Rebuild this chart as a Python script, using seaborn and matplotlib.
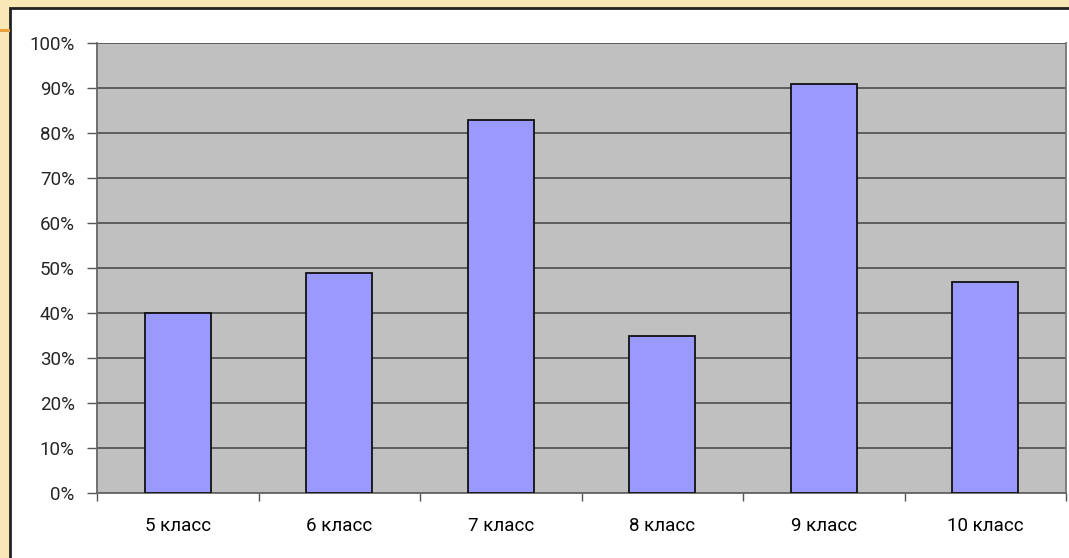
import seaborn as sns
import matplotlib.pyplot as plt
from matplotlib.patches import Rectangle
from matplotlib.ticker import PercentFormatter, FixedLocator

grades = ['5 класс', '6 класс', '7 класс', '8 класс', '9 класс', '10 класс']
shares = [40, 49, 83, 35, 91, 47]

sns.set_style('white')
plt.rcParams['font.family'] = ['Roboto', 'DejaVu Sans']

fig = plt.figure(figsize=(10.69, 5.58), dpi=100)
fig.patch.set_facecolor('#f6e7b4')

# white chart frame behind the axes
W, H = 1069, 558
fig.patches.append(Rectangle((10 / W, -0.01), 1.02, (550 / H) + 0.01,
                             transform=fig.transFigure, facecolor='white',
                             edgecolor='#222222', linewidth=2, zorder=-5))
fig.patches.append(Rectangle((0, 1 - 32 / H), 10 / W, 3 / H,
                             transform=fig.transFigure, facecolor='#e8a03c',
                             edgecolor='none', zorder=-5))

ax = fig.add_axes([97 / W, 1 - 493 / H, (1066 - 97) / W, 450 / H])
ax.set_facecolor('#c0c0c0')

sns.barplot(x=grades, y=shares, ax=ax, color='#9999ff', width=0.41,
            edgecolor='#111111', linewidth=1.3, saturation=1, zorder=3)

ax.set_ylim(0, 100)
ax.set_xlim(-0.5, len(grades) - 0.5)
ax.set_yticks(range(0, 101, 10))
ax.yaxis.set_major_formatter(PercentFormatter(decimals=0))
ax.yaxis.grid(True, color='#555555', linewidth=1.3, zorder=1)
ax.set_axisbelow(True)

# x tick marks sit between categories
ax.set_xticks(range(len(grades)))
ax.tick_params(axis='x', length=0, labelsize=13.5, pad=17, colors='black')
ax.xaxis.set_minor_locator(FixedLocator([i - 0.5 for i in range(len(grades) + 1)]))
ax.tick_params(axis='x', which='minor', length=6, width=1, color='#555555',
               bottom=True)
ax.tick_params(axis='y', length=7, width=1, color='#555555', labelsize=13.5,
               left=True, pad=9)

for side in ['top']:
    ax.spines[side].set_visible(False)
ax.spines['right'].set_color('#777777')
ax.spines['right'].set_linewidth(1.3)
ax.spines['left'].set_color('#666666')
ax.spines['left'].set_linewidth(1.3)
ax.spines['bottom'].set_color('#666666')
ax.spines['bottom'].set_linewidth(1.3)
ax.set_xlabel('')
ax.set_ylabel('')

fig.savefig('out.png', dpi=100)
